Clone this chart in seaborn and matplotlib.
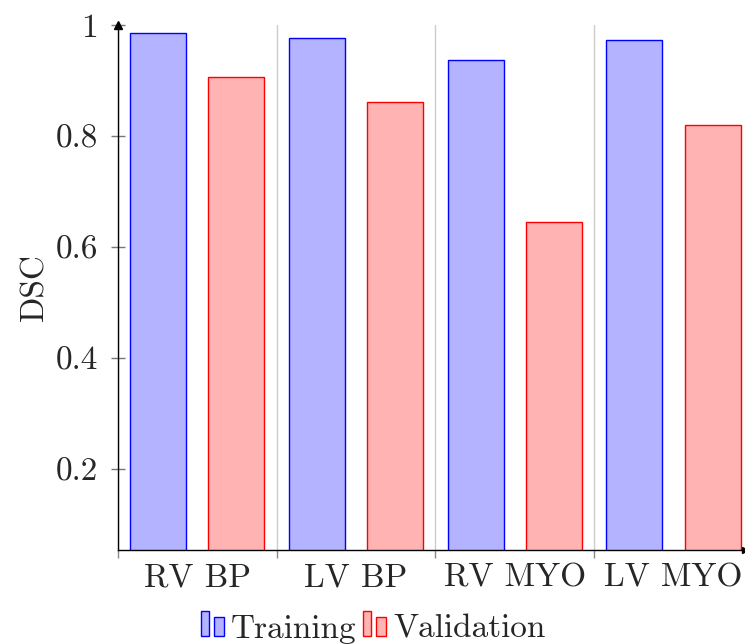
import pandas as pd
import matplotlib.pyplot as plt
import seaborn as sns
from matplotlib.patches import Rectangle, Patch
from matplotlib.legend_handler import HandlerBase

categories = ['RV BP', 'LV BP', 'RV MYO', 'LV MYO']
training = [0.985, 0.977, 0.937, 0.973]
validation = [0.906, 0.862, 0.646, 0.820]
yticks = [0.2, 0.4, 0.6, 0.8, 1.0]
ytick_labels = ['0.2', '0.4', '0.6', '0.8', '1']

df = pd.DataFrame({
    'structure': categories * 2,
    'DSC': training + validation,
    'set': ['Training'] * 4 + ['Validation'] * 4,
})

fills = {'Training': '#b3b3ff', 'Validation': '#ffb3b3'}
edges = {'Training': '#0000ff', 'Validation': '#ff0000'}

sns.set_style('white')
plt.rcParams['font.family'] = ['cmr10', 'DejaVu Serif']
plt.rcParams['axes.unicode_minus'] = False

fig = plt.figure(figsize=(7.45, 6.44), dpi=100)
ax = fig.add_axes([0.158, 0.146, 0.842, 0.815])

sns.barplot(data=df, x='structure', y='DSC', hue='set', palette=fills,
            width=0.985, gap=0.283, saturation=1, errorbar=None,
            legend=False, ax=ax, zorder=3)

for container, name in zip(ax.containers, ['Training', 'Validation']):
    for bar in container:
        bar.set_edgecolor(edges[name])
        bar.set_linewidth(1.0)

ax.set_xlim(-0.5, 3.45)
ax.set_ylim(0.054, 1.0)

# group separators
ax.set_xticks([-0.5, 0.5, 1.5, 2.5], minor=True)
ax.grid(True, which='minor', axis='x', color='#cccccc', linewidth=1)
ax.grid(False, which='major')
ax.set_xticks(range(len(categories)))
ax.set_xticklabels(categories, fontsize=24)
ax.tick_params(axis='x', which='major', length=0, pad=10)
ax.tick_params(axis='x', which='minor', direction='out', length=6,
               color='#888888', width=1.0, bottom=True)

ax.set_yticks(yticks)
ax.set_yticklabels(ytick_labels, fontsize=24)
ax.tick_params(axis='y', direction='inout', length=10, color='#777777',
               width=1.0, pad=9, left=True)

ax.set_xlabel('')
ax.set_ylabel('DSC', fontsize=24, labelpad=5)

sns.despine(ax=ax)
for s in ['left', 'bottom']:
    ax.spines[s].set_color('black')
    ax.spines[s].set_linewidth(1.0)
    ax.spines[s].set_zorder(4)

# axis arrows
ax.plot(0, 1.0, marker='^', color='black', markersize=6,
        transform=ax.transAxes, clip_on=False, zorder=5)
ax.plot(1.0, 0, marker='>', color='black', markersize=5,
        transform=ax.transAxes, clip_on=False, zorder=5)


class TwoBars(HandlerBase):
    def create_artists(self, legend, orig_handle, xdescent, ydescent,
                       width, height, fontsize, trans):
        fc = orig_handle.get_facecolor()
        ec = orig_handle.get_edgecolor()
        x0, y0 = -xdescent, -ydescent
        r1 = Rectangle((x0, y0), width * 0.36, height * 1.2,
                       facecolor=fc, edgecolor=ec, linewidth=1.0,
                       transform=trans)
        r2 = Rectangle((x0 + width * 0.56, y0), width * 0.42, height * 0.9,
                       facecolor=fc, edgecolor=ec, linewidth=1.0,
                       transform=trans)
        return [r1, r2]


handles = [Patch(facecolor=fills[k], edgecolor=edges[k]) for k in ['Training', 'Validation']]
fig.legend(handles, ['Training', 'Validation'],
           handler_map={Patch: TwoBars()},
           loc='center', bbox_to_anchor=(373 / 745, 1 - 629 / 644),
           ncol=2, frameon=False, fontsize=24,
           handlelength=0.7, handleheight=0.6, handletextpad=0.2,
           columnspacing=0.2, borderpad=0)

fig.savefig('out.png', dpi=100)
